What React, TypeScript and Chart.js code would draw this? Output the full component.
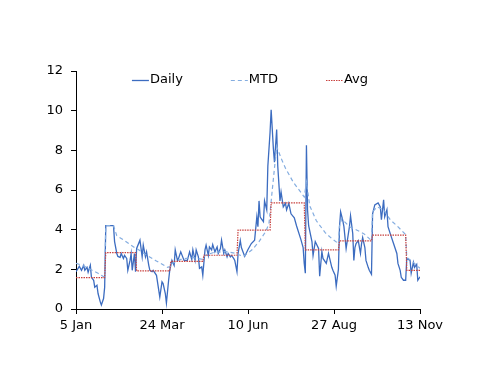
import { useEffect, useRef } from "react";
import { Chart, registerables } from "chart.js";

Chart.register(...registerables);

// x positions are calendar-day offsets from 5 Jan
const tickDays = [0, 78, 156, 234, 312];
const tickLabels = ["5 Jan", "24 Mar", "10 Jun", "27 Aug", "13 Nov"];

const dailyDays = [
  0, 3, 5, 7, 8, 10, 11, 13, 14, 16, 17, 19, 20, 22, 23, 25, 26,
  27, 30, 34, 35, 37, 38, 40, 41, 43, 44, 46, 47, 49, 50, 51, 53, 54,
  55, 58, 60, 61, 63, 64, 66, 67, 69, 70, 73, 76, 78, 79, 81, 82, 84, 85,
  87, 89, 90, 92, 93, 95, 98, 101, 103, 105, 106, 108, 109, 111, 112, 114, 115,
  117, 118, 120, 121, 123, 124, 126, 128, 129, 131, 132, 134, 135, 137, 138, 140, 141, 143, 144, 146,
  147, 149, 150, 153, 156, 159, 162, 164, 165, 166, 167, 168, 170, 171, 173, 174, 176,
  177, 179, 180, 182, 183, 185, 186, 188, 190, 191, 193, 195, 198, 200, 204, 206, 207,
  208, 209, 210, 211, 214, 215, 217, 220, 221, 223, 224, 227, 229, 232, 233, 235, 236, 238,
  239, 240, 242, 243, 245, 248, 249, 251, 252, 253, 254, 256, 258, 259, 260, 262, 263, 265, 266, 268,
  269, 271, 274, 276, 277, 279, 280, 282, 283, 285, 288, 291, 292, 294, 295, 297, 299,
  300, 303, 304, 306, 307, 309, 310, 312,
];
const dailyValues = [
  1.88, 2.15, 1.95, 2.2, 1.95, 2.1, 1.85, 2.2, 1.6, 1.45, 1.1, 1.2, 0.78, 0.36, 0.2, 0.53, 1.1,
  4.2, 4.2, 4.2, 3.4, 2.8, 2.65, 2.6, 2.8, 2.55, 2.7, 2.55, 1.95, 2.45, 2.8, 1.95, 2.8, 1.88,
  3.05, 3.47, 2.63, 3.22, 2.63, 2.88, 2.2, 1.95, 1.88, 1.95, 1.7, 0.6, 1.37, 1.28, 0.78, 0.3, 1.45, 1.95,
  2.45, 2.2, 2.98, 2.45, 2.55, 2.88, 2.45, 2.45, 2.88, 2.5, 2.98, 2.45, 2.98, 2.63, 2.05, 2.12, 1.7,
  2.98, 3.22, 2.7, 3.13, 2.98, 3.25, 2.88, 3.13, 2.8, 3.05, 3.47, 2.8, 2.98, 2.63, 2.8, 2.63, 2.7, 2.55, 2.45, 1.88,
  2.8, 3.45, 3.1, 2.65, 3.0, 3.3, 3.47, 4.64, 4.15, 5.45, 4.65, 4.55, 4.4, 5.45, 5.0, 7.2, 8.9,
  10.05, 8.1, 7.4, 9.05, 7.2, 5.45, 5.9, 5.15, 5.33, 5.0, 5.33, 4.8, 4.6, 4.2, 3.5, 3.1, 2.3,
  1.8, 8.25, 5.0, 4.2, 3.4, 2.7, 3.4, 3.05, 1.65, 2.9, 2.55, 2.3, 2.8, 2.1, 1.95, 1.7, 1.15, 2.0,
  4.15, 4.9, 4.45, 4.15, 3.05, 4.15, 4.7, 3.8, 2.45, 3.1, 3.3, 3.45, 2.8, 3.3, 3.6, 3.1, 2.45, 2.1, 1.95, 1.75,
  4.8, 5.25, 5.35, 5.15, 4.5, 5.5, 4.65, 5.0, 4.15, 3.8, 3.3, 2.8, 2.3, 1.95, 1.6, 1.45, 1.45,
  2.55, 2.45, 1.8, 2.35, 2.1, 2.25, 1.45, 1.62,
];

const mtdDays = [
  0, 6, 13, 20, 26,
  27, 34, 37, 44, 53,
  55, 63, 72, 83, 86,
  87, 95, 105, 115,
  117, 125, 135, 146,
  147, 152, 160, 166, 172, 175,
  178, 182, 186, 190, 197, 207,
  209, 212, 218, 226, 232, 238,
  239, 241, 248, 254, 261, 268,
  269, 273, 279, 285, 291, 299,
  300, 306, 312,
];
const mtdValues = [
  2.3, 2.2, 2.0, 1.8, 1.6,
  4.2, 4.2, 3.7, 3.45, 3.1,
  3.05, 2.75, 2.45, 2.1, 2.15,
  2.3, 2.5, 2.6, 2.5,
  2.7, 2.85, 2.9, 2.8,
  2.75, 2.65, 3.0, 3.4, 3.9, 4.3,
  6.0, 8.2, 7.6, 7.1, 6.4, 5.65,
  6.4, 5.2, 4.45, 3.85, 3.55, 3.3,
  4.2, 4.55, 4.15, 4.0, 3.8, 3.45,
  4.9, 5.15, 5.0, 4.5, 4.2, 3.75,
  2.6, 2.35, 2.05,
];

const monthStartDays = [0, 27, 55, 86, 116, 147, 177, 208, 239, 269, 300];
const monthAvg = [1.58, 2.84, 1.92, 2.4, 2.71, 3.98, 5.35, 2.98, 3.43, 3.72, 1.95];
const lastDay = 312;

const FONT = '"DejaVu Sans", Verdana, sans-serif';

const insideLegend = {
  id: "insideLegend",
  afterDraw(chart: any) {
    const ctx = chart.ctx as CanvasRenderingContext2D;
    const ds = chart.data.datasets as any[];
    const area = chart.chartArea;
    ctx.save();
    ctx.font = `13px ${FONT}`;
    const lineW = 17;
    const gapText = 1;
    const gapItem = 48;
    const widths = ds.map((d) => lineW + gapText + ctx.measureText(d.label).width);
    const total = widths.reduce((a, b) => a + b, 0) + gapItem * (ds.length - 1);
    let x = (area.left + area.right) / 2 - total / 2 + 2;
    const y = area.top + 9;
    ds.forEach((d, i) => {
      ctx.beginPath();
      ctx.strokeStyle = d.borderColor;
      ctx.lineWidth = d.borderWidth || 1;
      ctx.setLineDash(d.borderDash || []);
      ctx.moveTo(x, y + 0.5);
      ctx.lineTo(x + lineW, y + 0.5);
      ctx.stroke();
      ctx.setLineDash([]);
      ctx.fillStyle = "#000";
      ctx.textBaseline = "middle";
      ctx.textAlign = "left";
      ctx.fillText(d.label, x + lineW + gapText, y);
      x += widths[i] + gapItem;
    });
    ctx.restore();
  },
};

export default function App() {
  const ref = useRef<HTMLCanvasElement | null>(null);

  useEffect(() => {
    if (!ref.current) return;
    const daily = dailyDays.map((d, i) => ({ x: d, y: dailyValues[i] }));
    const mtd = mtdDays.map((d, i) => ({ x: d, y: mtdValues[i] }));
    const avg: { x: number; y: number }[] = [];
    monthStartDays.forEach((s, i) => {
      const e = i + 1 < monthStartDays.length ? monthStartDays[i + 1] - 1 : lastDay;
      avg.push({ x: s, y: monthAvg[i] });
      avg.push({ x: e, y: monthAvg[i] });
    });

    const chart = new Chart(ref.current, {
      type: "line",
      data: {
        datasets: [
          {
            label: "Daily",
            data: daily,
            borderColor: "#3C6CC0",
            borderWidth: 1.3,
            pointRadius: 0,
            tension: 0,
            order: 2,
          },
          {
            label: "MTD",
            data: mtd,
            borderColor: "#84ADE0",
            borderWidth: 1.2,
            borderDash: [4, 3],
            pointRadius: 0,
            tension: 0,
            order: 1,
          },
          {
            label: "Avg",
            data: avg,
            borderColor: "#C8413E",
            borderWidth: 1.2,
            borderDash: [1.5, 1],
            pointRadius: 0,
            tension: 0,
            order: 0,
          },
        ] as any,
      },
      options: {
        animation: false,
        responsive: true,
        maintainAspectRatio: false,
        parsing: false as any,
        layout: { padding: { left: 0, right: 80, top: 71, bottom: 0 } },
        plugins: {
          legend: { display: false },
          tooltip: { enabled: false },
        },
        scales: {
          x: {
            type: "linear",
            min: 0,
            max: lastDay,
            afterBuildTicks: (scale: any) => {
              scale.ticks = tickDays.map((v) => ({ value: v }));
            },
            afterFit: (scale: any) => {
              scale.height = 77;
            },
            ticks: {
              autoSkip: false,
              maxRotation: 0,
              padding: 4,
              color: "#000",
              font: { family: FONT, size: 13 },
              callback: (v: any) => {
                const idx = tickDays.indexOf(Number(v));
                return idx >= 0 ? tickLabels[idx] : "";
              },
            },
            grid: { drawOnChartArea: false, drawTicks: true, tickLength: 5, color: "#000" },
            border: { display: true, color: "#000", width: 1 },
          },
          y: {
            min: 0,
            max: 12,
            afterFit: (scale: any) => {
              scale.width = 76;
            },
            ticks: {
              stepSize: 2,
              padding: 8,
              color: "#000",
              font: { family: FONT, size: 13 },
            },
            grid: { drawOnChartArea: false, drawTicks: true, tickLength: 5, color: "#000" },
            border: { display: true, color: "#000", width: 1 },
          },
        },
      },
      plugins: [insideLegend],
    });
    return () => chart.destroy();
  }, []);

  return (
    <div style={{ position: "fixed", left: 0, top: 0, width: 500, height: 386, background: "#fff" }}>
      <canvas ref={ref} />
    </div>
  );
}
